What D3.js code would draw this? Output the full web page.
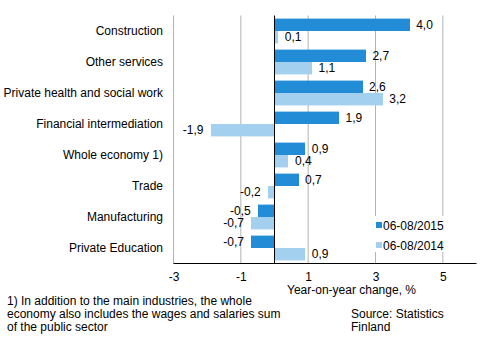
<!DOCTYPE html>
<html>
<head>
  <meta charset="utf-8">
  <title>Year-on-year change by industry</title>
  <script src="https://cdn.jsdelivr.net/npm/d3@7"></script>
  <style>
    body { margin: 0; background: #fff; }
    svg text { font-family: "Liberation Sans", Arial, sans-serif; font-size: 12px; fill: #000; }
  </style>
</head>
<body>
<div id="chart"></div>
<script>
// data
var categories = ["Construction", "Other services", "Private health and social work",
  "Financial intermediation", "Whole economy 1)", "Trade", "Manufacturing", "Private Education"];
var series2015 = [4.0, 2.7, 2.6, 1.9, 0.9, 0.7, -0.5, -0.7];
var series2014 = [0.1, 1.1, 3.2, -1.9, 0.4, -0.2, -0.7, 0.9];
var seriesNames = ["06-08/2015", "06-08/2014"];
var tickValues = [-3, -1, 1, 3, 5];

var w = 494, h = 339;
var colors = ["#228dd6", "#a2d0ee"];

var svg = d3.select("#chart").append("svg")
  .attr("width", w)
  .attr("height", h);

var x = d3.scaleLinear().domain([-3, 6]).range([173.5, 476.5]);
var y = d3.scaleBand().domain(categories).range([15.5, 263.5])
  .paddingInner(0.2).paddingOuter(0.1);
var bh = y.bandwidth() / 2;

// comma decimals, plain hyphen for minus
var fmt = function(v) { return v.toFixed(1).replace(".", ","); };

// gridlines
svg.append("g").selectAll("line")
  .data(tickValues)
  .enter().append("line")
  .attr("x1", function(d) { return x(d); })
  .attr("x2", function(d) { return x(d); })
  .attr("y1", 15.5)
  .attr("y2", 263.5)
  .attr("stroke", "#b3b3b3")
  .attr("stroke-width", 1);

// bars
var series = [series2015, series2014];
series.forEach(function(vals, s) {
  svg.append("g").selectAll("rect")
    .data(vals)
    .enter().append("rect")
    .attr("x", function(d) { return Math.round(x(Math.min(0, d))); })
    .attr("y", function(d, i) { return y(categories[i]) + s * bh; })
    .attr("width", function(d) { return Math.round(Math.abs(x(d) - x(0))); })
    .attr("height", bh)
    .attr("fill", colors[s]);

  svg.append("g").selectAll("text")
    .data(vals)
    .enter().append("text")
    .attr("x", function(d) { return d >= 0 ? x(d) + 7 : x(d) - 7; })
    .attr("y", function(d, i) { return y(categories[i]) + s * bh + bh / 2; })
    .attr("dy", "0.35em")
    .attr("text-anchor", function(d) { return d >= 0 ? "start" : "end"; })
    .text(fmt);
});

// zero line and bottom axis
svg.append("line")
  .attr("x1", x(0)).attr("x2", x(0))
  .attr("y1", 15.5).attr("y2", 263.5)
  .attr("stroke", "#000");

var xAxis = svg.append("g")
  .attr("transform", "translate(0,263.5)")
  .call(d3.axisBottom(x).tickValues(tickValues).tickSize(0).tickPadding(9)
    .tickFormat(function(d) { return String(d); }));
xAxis.select(".domain").attr("stroke", "#000").attr("d", "M173.5,0H476.5");
xAxis.selectAll("text").style("font-size", "12px").attr("font-family", null);

// category labels
svg.append("g").selectAll("text")
  .data(categories)
  .enter().append("text")
  .attr("x", 163)
  .attr("y", function(d) { return y(d) + y.bandwidth() / 2; })
  .attr("dy", "0.35em")
  .attr("text-anchor", "end")
  .text(function(d) { return d; });

// legend
var legend = svg.append("g").attr("transform", "translate(372,216)");
legend.append("rect")
  .attr("width", 78).attr("height", 36)
  .attr("fill", "#fff");
legend.selectAll(".sw")
  .data(seriesNames)
  .enter().append("rect")
  .attr("class", "sw")
  .attr("x", 4)
  .attr("y", function(d, i) { return 6 + i * 20; })
  .attr("width", 6).attr("height", 6)
  .attr("fill", function(d, i) { return colors[i]; });
legend.selectAll("text")
  .data(seriesNames)
  .enter().append("text")
  .attr("x", 11)
  .attr("y", function(d, i) { return 14 + i * 20; })
  .text(function(d) { return d; });

// axis title
svg.append("text")
  .attr("x", 287).attr("y", 294)
  .text("Year-on-year change, %");

// footnote
var notes = ["1) In addition to the main industries, the whole",
  "economy also includes the wages and salaries sum",
  "of the public sector"];
svg.append("g").selectAll("text")
  .data(notes)
  .enter().append("text")
  .attr("x", 7)
  .attr("y", function(d, i) { return 305 + i * 13; })
  .text(function(d) { return d; });

svg.append("g").selectAll("text")
  .data(["Source: Statistics", "Finland"])
  .enter().append("text")
  .attr("x", 351)
  .attr("y", function(d, i) { return 318 + i * 13; })
  .text(function(d) { return d; });
</script>
</body>
</html>
